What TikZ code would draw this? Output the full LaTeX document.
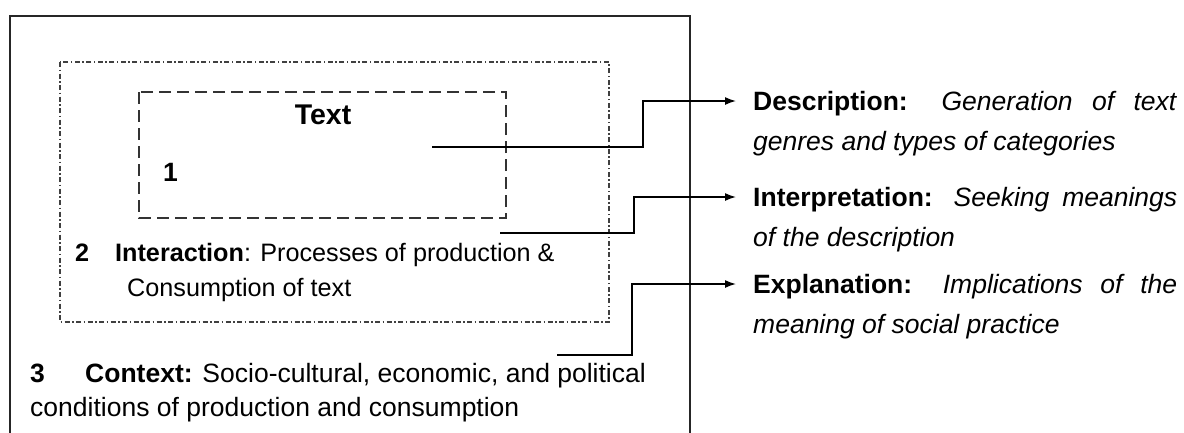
\documentclass[tikz,border=0pt]{standalone}
\usepackage{fontspec}
\setmainfont{Liberation Sans}
\usetikzlibrary{arrows.meta}

\tikzset{
  lbl/.style={font=\fontsize{26.5pt}{34pt}\selectfont, inner sep=0pt, anchor=west,
    text height=19pt, text depth=0pt},
  lblsm/.style={lbl, font=\fontsize{25.2pt}{34pt}\selectfont, text height=18pt},
  conn/.style={line width=1.5pt, -{Latex[length=11pt,width=8pt]}, shorten >=17pt},
}

\begin{document}
\begin{tikzpicture}[x=1pt, y=-1pt]
  \clip (0,0) rectangle (1184,432);

  % nested frames
  \draw[line width=1.3pt, black!85] (10,16) rectangle (690,460);
  \draw[line width=1.4pt, black!75, dash pattern=on 5pt off 2.5pt on 1.5pt off 2.5pt] (60,62) rectangle (609,322);
  \draw[line width=2pt, black!80, dash pattern=on 12pt off 6pt] (139,92) rectangle (506,218);

  % labels inside the frames
  \node[lbl, anchor=center, font=\fontsize{28.5pt}{34pt}\selectfont, text height=20pt] (txt) at (323,114) {\textbf{Text}};
  \node[lbl] (one) at (163,172) {\textbf{1}};
  \node[lblsm] (two) at (75,252) {\textbf{2}};
  \node[lblsm] (inter) at (115,252) {\textbf{Interaction}: Processes of production \&};
  \node[lblsm] (inter2) at (127,287) {Consumption of text};
  \node[lbl] (three) at (30,373) {\textbf{3}};
  \node[lbl] (ctx) at (85,373) {\textbf{Context:} Socio-cultural, economic, and political};
  \node[lbl] (ctx2) at (30,407) {conditions of production and consumption};

  % labels on the right
  \node[lbl] (desc) at (753,101) {\makebox[424pt][s]{\textbf{Description:} \textit{Generation of text}}};
  \node[lbl] (desc2) at (753,141) {\textit{genres and types of categories}};
  \node[lbl] (interp) at (753,197) {\makebox[424pt][s]{\textbf{Interpretation:} \textit{Seeking meanings}}};
  \node[lbl] (interp2) at (753,237) {\textit{of the description}};
  \node[lbl] (expl) at (753,284) {\makebox[424pt][s]{\textbf{Explanation:} \textit{Implications of the}}};
  \node[lbl] (expl2) at (753,324) {\textit{meaning of social practice}};

  % connectors
  \coordinate (s1) at (432,147);
  \coordinate (s2) at (500,233);
  \coordinate (s3) at (557,355);
  \draw[conn] (s1) -- (643,147) |- (desc.west);
  \draw[conn] (s2) -- (634,233) |- (interp.west);
  \draw[conn] (s3) -- (632,355) |- (expl.west);
\end{tikzpicture}
\end{document}
